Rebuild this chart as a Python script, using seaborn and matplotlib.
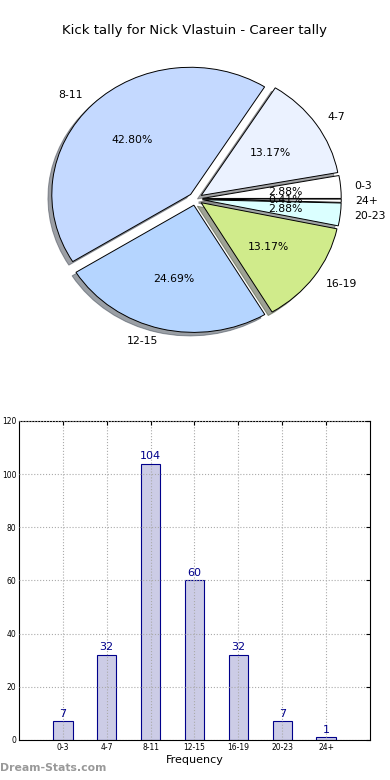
import matplotlib
matplotlib.use("Agg")
import matplotlib.pyplot as plt
import seaborn as sns
import pandas as pd

# kick tally data
ranges = ["0-3", "4-7", "8-11", "12-15", "16-19", "20-23", "24+"]
counts = [7, 32, 104, 60, 32, 7, 1]
slice_colors = ["#ffffff", "#ebf2ff", "#c4d9ff", "#b5d5ff", "#d0eb8b", "#dbffff", "#ffffff"]
title = "Kick tally for Nick Vlastuin - Career tally"

sns.set_style("white")
plt.rcParams["font.family"] = ["DejaVu Sans"]
plt.rcParams["text.color"] = "black"
plt.rcParams["axes.labelcolor"] = "black"
plt.rcParams["xtick.color"] = "black"
plt.rcParams["ytick.color"] = "black"

df = pd.DataFrame({"Range": ranges, "Kicks": counts})

fig = plt.figure(figsize=(3.9, 7.8), dpi=100)

# Pie chart (slightly stretched, like the original)
fig.text(0.5, 0.961, title, ha="center", va="center", fontsize=9.5)
w, h = 347, 318
ax1 = fig.add_axes([(195.5 - w / 2) / 390, 1 - (199 + h / 2) / 780, w / 390, h / 780])
wedges, texts, autotexts = ax1.pie(
    df["Kicks"], labels=df["Range"], colors=slice_colors, autopct="%.2f%%",
    startangle=0, explode=[0.05] * len(ranges), shadow=True,
    wedgeprops={"edgecolor": "black", "linewidth": 0.7},
    textprops={"fontsize": 7.8})
ax1.set_aspect("auto")
ax1.set_xlim(-1.25, 1.25)
ax1.set_ylim(-1.25, 1.25)

# Bar chart
ax2 = fig.add_axes([0.0487, 0.0513, 0.9, 0.409])
sns.barplot(data=df, x="Range", y="Kicks", ax=ax2, color="#ccccE6",
            saturation=1, width=0.44, edgecolor="#00008b", linewidth=0.8)
ax2.set_xlim(-1, 7)
ax2.set_ylim(0, 120)
ax2.set_yticks(range(0, 121, 20))
ax2.grid(True, linestyle=":", color="#aaaaaa", linewidth=0.8)
ax2.set_axisbelow(False)
ax2.tick_params(direction="in", labelsize=5.5, top=True, right=True, length=3, pad=2)
ax2.set_xlabel("Frequency", fontsize=8, labelpad=2)
ax2.set_ylabel("")
for i, v in enumerate(counts):
    ax2.text(i, v + 1, str(v), ha="center", va="bottom", fontsize=8, color="#00008b")
for sp in ax2.spines.values():
    sp.set_color("black")
    sp.set_linewidth(0.8)

fig.text(0.0, 0.012, "Dream-Stats.com", fontsize=7.8, color="#999999", fontweight="bold")

fig.savefig("out.png", dpi=100)
